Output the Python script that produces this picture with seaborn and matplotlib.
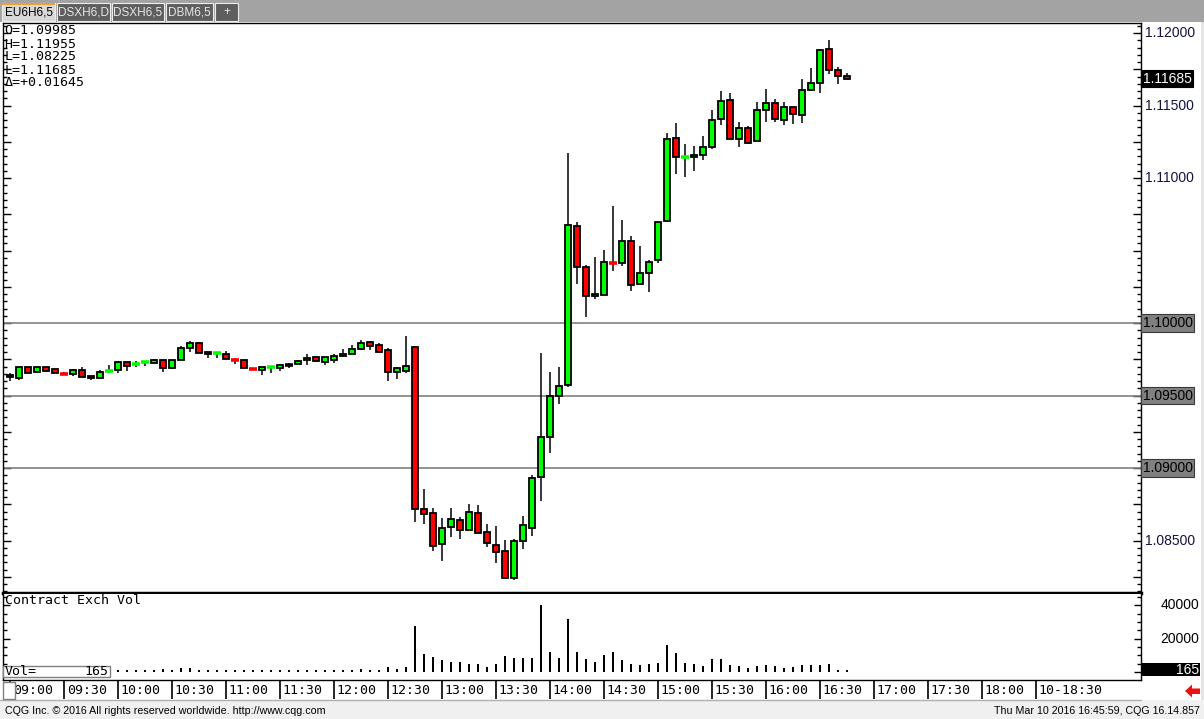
import numpy as np
import pandas as pd
import matplotlib
matplotlib.use('Agg')
import matplotlib.pyplot as plt
import seaborn as sns
from matplotlib.patches import Rectangle, Polygon
from matplotlib.ticker import MultipleLocator

# EU6H6 5-minute bars, 09:00 .. 16:45
opens = [1.09642, 1.09619, 1.09695, 1.09660, 1.09695, 1.09681, 1.09655, 1.09646, 1.09676, 1.09635,
         1.09619, 1.09670, 1.09676, 1.09729, 1.09713, 1.09727, 1.09727, 1.09743, 1.09690, 1.09743,
         1.09826, 1.09862, 1.09798, 1.09787, 1.09784, 1.09750, 1.09743, 1.09688, 1.09674, 1.09690,
         1.09692, 1.09713, 1.09715, 1.09743, 1.09764, 1.09729, 1.09747, 1.09773, 1.09784, 1.09819,
         1.09867, 1.09846, 1.09812, 1.09660, 1.09672, 1.09832, 1.08715, 1.08687, 1.08474, 1.08591,
         1.08639, 1.08570, 1.08687, 1.08556, 1.08466, 1.08425, 1.08239, 1.08494, 1.08584, 1.08936,
         1.09211, 1.09494, 1.09570, 1.10667, 1.10384, 1.10184, 1.10195, 1.10418, 1.10411, 1.10563,
         1.10267, 1.10342, 1.10432, 1.10701, 1.11273, 1.11140, 1.11143, 1.11156, 1.11211, 1.11405,
         1.11536, 1.11267, 1.11343, 1.11253, 1.11467, 1.11515, 1.11398, 1.11487, 1.11432, 1.11605,
         1.11653, 1.11887, 1.11742, 1.11701]
highs = [1.09653, 1.09695, 1.09695, 1.09695, 1.09695, 1.09681, 1.09665, 1.09683, 1.09695, 1.09635,
         1.09676, 1.09711, 1.09736, 1.09729, 1.09736, 1.09734, 1.09752, 1.09743, 1.09743, 1.09842,
         1.09874, 1.09869, 1.09798, 1.09796, 1.09805, 1.09759, 1.09743, 1.09692, 1.09695, 1.09704,
         1.09715, 1.09727, 1.09745, 1.09789, 1.09768, 1.09768, 1.09784, 1.09823, 1.09849, 1.09883,
         1.09878, 1.09865, 1.09828, 1.09697, 1.09913, 1.09842, 1.08853, 1.08722, 1.08653, 1.08722,
         1.08660, 1.08749, 1.08742, 1.08611, 1.08598, 1.08501, 1.08508, 1.08667, 1.08949, 1.09791,
         1.09660, 1.09695, 1.11170, 1.10697, 1.10398, 1.10455, 1.10503, 1.10807, 1.10710, 1.10598,
         1.10531, 1.10434, 1.10694, 1.11308, 1.11377, 1.11232, 1.11218, 1.11287, 1.11467, 1.11598,
         1.11584, 1.11384, 1.11356, 1.11522, 1.11612, 1.11543, 1.11522, 1.11487, 1.11680, 1.11756,
         1.11887, 1.11955, 1.11763, 1.11722]
lows = [1.09603, 1.09609, 1.09653, 1.09653, 1.09660, 1.09653, 1.09642, 1.09637, 1.09626, 1.09605,
        1.09619, 1.09658, 1.09658, 1.09672, 1.09699, 1.09701, 1.09727, 1.09665, 1.09685, 1.09743,
        1.09798, 1.09791, 1.09761, 1.09761, 1.09754, 1.09715, 1.09688, 1.09674, 1.09639, 1.09658,
        1.09672, 1.09692, 1.09715, 1.09708, 1.09734, 1.09708, 1.09727, 1.09768, 1.09784, 1.09814,
        1.09816, 1.09798, 1.09603, 1.09616, 1.09653, 1.08630, 1.08616, 1.08430, 1.08361, 1.08526,
        1.08512, 1.08570, 1.08549, 1.08457, 1.08347, 1.08232, 1.08225, 1.08444, 1.08533, 1.08775,
        1.09106, 1.09439, 1.09560, 1.10271, 1.10044, 1.10163, 1.10191, 1.10361, 1.10395, 1.10223,
        1.10267, 1.10216, 1.10416, 1.10695, 1.11030, 1.11009, 1.11051, 1.11122, 1.11202, 1.11368,
        1.11267, 1.11211, 1.11232, 1.11253, 1.11384, 1.11384, 1.11363, 1.11370, 1.11377, 1.11598,
        1.11584, 1.11715, 1.11646, 1.11680]
closes = [1.09626, 1.09695, 1.09653, 1.09695, 1.09672, 1.09653, 1.09650, 1.09676, 1.09626, 1.09619,
          1.09660, 1.09672, 1.09731, 1.09701, 1.09715, 1.09729, 1.09743, 1.09692, 1.09743, 1.09826,
          1.09862, 1.09791, 1.09784, 1.09791, 1.09754, 1.09745, 1.09688, 1.09683, 1.09695, 1.09694,
          1.09711, 1.09713, 1.09736, 1.09757, 1.09736, 1.09764, 1.09773, 1.09787, 1.09819, 1.09860,
          1.09839, 1.09803, 1.09660, 1.09688, 1.09704, 1.08715, 1.08680, 1.08464, 1.08584, 1.08646,
          1.08570, 1.08694, 1.08549, 1.08480, 1.08418, 1.08239, 1.08494, 1.08605, 1.08929, 1.09211,
          1.09494, 1.09563, 1.10674, 1.10384, 1.10184, 1.10198, 1.10418, 1.10412, 1.10563, 1.10260,
          1.10342, 1.10418, 1.10694, 1.11267, 1.11143, 1.11145, 1.11156, 1.11211, 1.11398, 1.11529,
          1.11267, 1.11343, 1.11239, 1.11467, 1.11515, 1.11405, 1.11487, 1.11439, 1.11605, 1.11653,
          1.11880, 1.11742, 1.11701, 1.11685]
volumes = [1800, 1500, 1400, 1600, 1500, 1300, 1400, 1500, 1600, 1400,
           1300, 1500, 1500, 1400, 1500, 1400, 1500, 1600, 1500, 2400,
           2600, 1500, 1400, 1500, 1500, 1400, 1500, 1300, 1400, 1500,
           1400, 1300, 1500, 1400, 1500, 1400, 1500, 1400, 1500, 1600,
           1400, 1500, 2800, 2000, 2800, 27400, 11000, 9200, 7400, 5800,
           5800, 5000, 4600, 2800, 5000, 9800, 8600, 8200, 8600, 40200,
           12200, 8600, 31800, 12200, 8000, 6200, 10400, 12200, 7400, 4600,
           4400, 4600, 5600, 16400, 11600, 5600, 5000, 3800, 8000, 8000,
           4400, 3800, 2200, 3800, 4400, 3800, 2600, 3200, 4400, 4400,
           4400, 5000, 1400, 165]

time_labels = ['09:00', '09:30', '10:00', '10:30', '11:00', '11:30', '12:00', '12:30', '13:00', '13:30',
               '14:00', '14:30', '15:00', '15:30', '16:00', '16:30', '17:00', '17:30', '18:00', '10-18:30']
price_labels = [1.085, 1.090, 1.095, 1.100, 1.110, 1.115, 1.120]
grid_levels = [1.090, 1.095, 1.100]
vol_labels = [20000, 40000]
header_lines = ['O=1.09985', 'H=1.11955', 'L=1.08225', 'L=1.11685', '\u0394=+0.01645']
tabs = ['EU6H6,5', 'DSXH6,D', 'DSXH6,5', 'DBM6,5', '+']

W, H = 1204, 719
MONO = 'DejaVu Sans Mono'
SANS = 'Liberation Sans'
GREEN = '#00ff00'
RED = '#ff0000'

sns.set_style('white')
plt.rcParams['font.family'] = ['Liberation Sans', 'DejaVu Sans']


def fx(x):
    return x / W


def fy(y):
    return 1 - y / H


fig = plt.figure(figsize=(W / 100, H / 100), dpi=100)
fig.patch.set_facecolor('white')

# tab strip
fig.patches.append(Rectangle((0, fy(22)), 1, fy(0) - fy(22), transform=fig.transFigure,
                             fc='#a3a3a3', ec='none', zorder=0))
tab_x = [2, 57, 112, 166, 215]
tab_w = [53, 53, 52, 47, 23]
for i, (name, tx, tw) in enumerate(zip(tabs, tab_x, tab_w)):
    active = i == 0
    fig.patches.append(Rectangle((fx(tx), fy(21)), fx(tw), fy(3) - fy(21), transform=fig.transFigure,
                                 fc='#d8d8d8' if active else '#5e5e5e', ec='#ececec', lw=0.8, zorder=1))
    if active:
        fig.patches.append(Rectangle((fx(tx), fy(4.5)), fx(tw), fy(3) - fy(4.5), transform=fig.transFigure,
                                     fc='#f0a030', ec='none', zorder=2))
    fig.text(fx(tx + tw / 2), fy(12.5), name, ha='center', va='center', fontsize=8.5,
             family=SANS, color='black' if active else '#e8e8e8', zorder=3)
fig.patches.append(Rectangle((fx(1201), fy(700)), fx(3), fy(22) - fy(700), transform=fig.transFigure,
                             fc='#e4e4e4', ec='none', zorder=0))

# footer
fig.patches.append(Rectangle((0, 0), 1, fy(700), transform=fig.transFigure,
                             fc='#f0f0f0', ec='none', zorder=0))
fig.text(fx(5), fy(711), 'CQG Inc. \u00a9 2016 All rights reserved worldwide. http://www.cqg.com',
         ha='left', va='center', fontsize=7.7, family=SANS, color='black')
fig.text(fx(1200), fy(711), 'Thu Mar 10 2016 16:45:59, CQG 16.14.857',
         ha='right', va='center', fontsize=7.7, family=SANS, color='black')

idx = np.arange(len(opens))
df = pd.DataFrame({'bar': idx, 'open': opens, 'high': highs, 'low': lows, 'close': closes,
                   'volume': volumes})
x_lo, x_hi = -7 / 9, 1131 / 9

# ---- price panel
ax = fig.add_axes([fx(3), fy(593), fx(1141) - fx(3), fy(23) - fy(593)])
ax.set_xlim(x_lo, x_hi)
ax.set_ylim(1.08138, 1.12069)
for lvl in grid_levels:
    ax.axhline(lvl, color='#808080', lw=1.2, zorder=1)

ax.vlines(df['bar'], df['low'], df['high'], color='black', lw=1.1, zorder=2)
diff = df['close'] - df['open']
body = df[diff.abs() >= 0.0001]
body_col = np.where(body['close'] > body['open'], GREEN, RED)
ax.bar(body['bar'], (body['close'] - body['open']).abs(), bottom=body[['open', 'close']].min(axis=1),
       width=0.58, color=body_col, edgecolor='black', linewidth=1.3, zorder=3)
dash = df[diff.abs() < 0.0001]
dash_col = np.where(dash['close'] > dash['open'], GREEN,
                    np.where(dash['close'] < dash['open'], RED, 'black'))
ax.hlines(dash['close'], dash['bar'] - 0.4, dash['bar'] + 0.4, colors=dash_col, lw=2.6, zorder=3)

ax.yaxis.set_major_locator(MultipleLocator(0.0025))
ax.yaxis.set_minor_locator(MultipleLocator(0.0005))
ax.tick_params(axis='y', which='both', direction='in', left=True, right=True,
               labelleft=False, labelright=False, color='black', width=1)
ax.tick_params(axis='y', which='major', length=6)
ax.tick_params(axis='y', which='minor', length=3)
ax.set_xticks([])
for s in ax.spines.values():
    s.set_color('black')
    s.set_linewidth(1)
ax.spines['bottom'].set_linewidth(2.5)

label_tr = ax.get_yaxis_transform()
for p in price_labels:
    if p in grid_levels:
        ax.text(1.0015, p, f'{p:.5f}', transform=label_tr, ha='left', va='center', fontsize=10,
                family=SANS, color='black', clip_on=False,
                bbox=dict(boxstyle='square,pad=0.12', fc='#808080', ec='#3a3a3a', lw=0.8))
    else:
        ax.text(1.0035, p, f'{p:.5f}', transform=label_tr, ha='left', va='center', fontsize=10,
                family=SANS, color='#141440', clip_on=False)
ax.text(1.0015, closes[-1], f'{closes[-1]:.5f}', transform=label_tr, ha='left', va='center',
        fontsize=10, family=SANS, color='white', clip_on=False,
        bbox=dict(boxstyle='square,pad=0.12', fc='black', ec='black', lw=0.8))

for k, line in enumerate(header_lines):
    fig.text(fx(4.5), fy(31 + 13 * k), line, ha='left', va='center', fontsize=9.5, family=MONO,
             color='black')

# ---- volume panel
axv = fig.add_axes([fx(3), fy(680), fx(1141) - fx(3), fy(594) - fy(680)])
vol_plot = df.assign(volume=np.maximum(df['volume'], 1200))
sns.barplot(data=vol_plot, x='bar', y='volume', native_scale=True, color='black', width=0.22,
            errorbar=None, linewidth=0, saturation=1, ax=axv)
axv.set_xlim(x_lo, x_hi)
axv.set_ylim(-4800, 46800)
axv.set_xlabel('')
axv.set_ylabel('')
axv.set_xticks([])
axv.yaxis.set_major_locator(MultipleLocator(20000))
axv.yaxis.set_minor_locator(MultipleLocator(5000))
axv.tick_params(axis='y', which='both', direction='in', left=True, right=True,
                labelleft=False, labelright=False, color='black', width=1)
axv.tick_params(axis='y', which='major', length=5)
axv.tick_params(axis='y', which='minor', length=3)
for s in axv.spines.values():
    s.set_color('black')
    s.set_linewidth(1)
axv.spines['top'].set_visible(False)
vtr = axv.get_yaxis_transform()
for v in vol_labels:
    axv.text(1.051, v, f'{v}', transform=vtr, ha='right', va='center', fontsize=10, family=SANS,
             color='black', clip_on=False)
# last-volume marker on the right scale
fig.patches.append(Rectangle((fx(1142), fy(676)), fx(58), fy(663) - fy(676), transform=fig.transFigure,
                             fc='black', ec='none', zorder=4))
fig.text(fx(1199), fy(669.5), f'{volumes[-1]}', ha='right', va='center', fontsize=10, family=SANS,
         color='white', zorder=6)
fig.text(fx(5), fy(601), 'Contract Exch Vol', ha='left', va='center', fontsize=9.5, family=MONO,
         color='black')
fig.patches.append(Rectangle((fx(3), fy(677)), fx(107), fy(666) - fy(677), transform=fig.transFigure,
                             fc='white', ec='#808080', lw=1, zorder=5))
fig.text(fx(5), fy(671.5), 'Vol=', ha='left', va='center', fontsize=9.5, family=MONO,
         color='black', zorder=6)
fig.text(fx(108), fy(671.5), f'{volumes[-1]}', ha='right', va='center', fontsize=9.5, family=MONO,
         color='black', zorder=6)

# ---- time axis
axt = fig.add_axes([fx(3), fy(699), fx(1141) - fx(3), fy(681) - fy(699)])
axt.set_xlim(x_lo, x_hi)
axt.set_ylim(0, 1)
axt.axis('off')
for k, lab in enumerate(time_labels):
    pos = 6 * k
    axt.axvline(pos, color='black', lw=1.2)
    axt.text(pos + 0.3, 0.45, lab, ha='left', va='center', fontsize=9.5, family=MONO, color='black')
fig.patches.append(Rectangle((fx(3), fy(699)), fx(12), fy(682) - fy(699), transform=fig.transFigure,
                             fc='white', ec='#808080', lw=1, zorder=5))
fig.lines.append(plt.Line2D([0, fx(1141)], [fy(699.5), fy(699.5)], transform=fig.transFigure,
                            color='#b0b0b0', lw=1))

# red scroll arrow
arrow = [(1185, 691), (1192, 684.5), (1192, 688.5), (1200, 688.5), (1200, 694), (1192, 694), (1192, 697.5)]
fig.patches.append(Polygon([(fx(a), fy(b)) for a, b in arrow], closed=True, transform=fig.transFigure,
                           fc='#ee1111', ec='none', zorder=5))

fig.savefig('out.png', dpi=100)
